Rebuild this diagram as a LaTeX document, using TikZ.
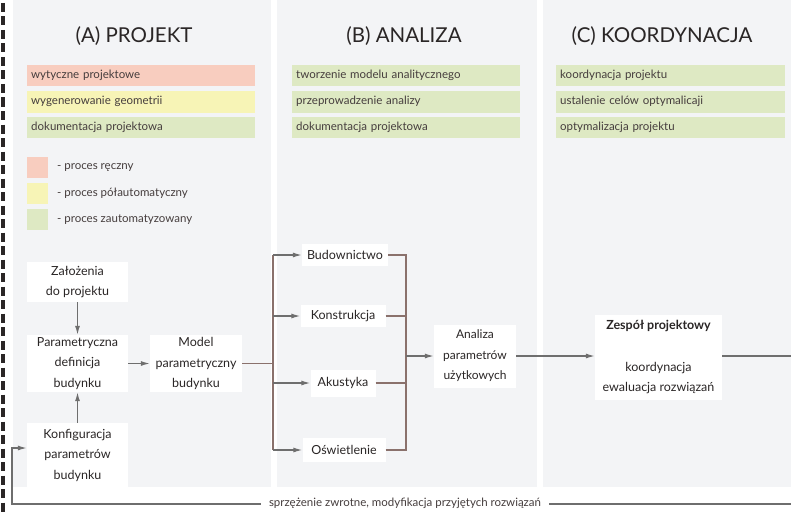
\documentclass[tikz,border=0pt]{standalone}
\usepackage{fontspec}
\setmainfont{Lato}
\usetikzlibrary{arrows.meta}
\definecolor{panel}{HTML}{F3F4F6}
\definecolor{cred}{HTML}{F8CDBF}
\definecolor{cyel}{HTML}{F7F4B6}
\definecolor{cgrn}{HTML}{DEE9C3}
\definecolor{txt}{HTML}{2A2626}
\definecolor{bartxt}{HTML}{453D3D}
\definecolor{busc}{HTML}{8A716C}
\definecolor{arrc}{HTML}{6E6E6E}
\tikzset{
  title/.style={font=\fontsize{20.5}{24}\selectfont, text=txt, inner sep=0pt},
  bar/.style={anchor=west, minimum height=21pt, inner xsep=4pt, inner ysep=0pt,
    text width=220pt, align=left, font=\fontsize{11.5}{13}\selectfont, text=bartxt,
    text height=8.5pt, text depth=2.5pt},
  legsq/.style={minimum width=21pt, minimum height=21pt, inner sep=0pt},
  legtxt/.style={anchor=west, font=\fontsize{11.5}{13}\selectfont, text=bartxt, inner sep=0pt},
  flow/.style={fill=white, align=center, font=\fontsize{12.5}{20.5}\selectfont, text=txt, inner sep=2pt},
  busline/.style={draw=busc, line width=1.2pt},
  arr/.style={draw=arrc, line width=1.2pt, -{Latex[length=9pt,width=5pt]}},
  fbline/.style={draw=arrc, line width=1.2pt}
}
\begin{document}
\begin{tikzpicture}[x=1pt,y=-1pt]
\useasboundingbox (0,0) rectangle (791,516);
\fill[white] (0,0) rectangle (791,516);
% left dashed line
\draw[draw=txt, line width=3.2pt, dash pattern=on 9pt off 4.5pt] (3,3) -- (3,516);
% panels
\fill[panel] (13,0) rectangle (271,487);
\fill[panel] (277,0) rectangle (537,487);
\fill[panel] (543,0) rectangle (791,487);
% titles
\node[title] (tA) at (134,36) {(A) PROJEKT};
\node[title] (tB) at (404,36) {(B) ANALIZA};
\node[title] (tC) at (662,36) {(C) KOORDYNACJA};
% bars A
\node[bar, fill=cred] (a1) at (27,75.5) {wytyczne projektowe};
\node[bar, fill=cyel] (a2) at (27,102) {wygenerowanie geometrii};
\node[bar, fill=cgrn] (a3) at (27,127.5) {dokumentacja projektowa};
% bars B
\node[bar, fill=cgrn] (b1) at (292,75.5) {tworzenie modelu analitycznego};
\node[bar, fill=cgrn] (b2) at (292,102) {przeprowadzenie analizy};
\node[bar, fill=cgrn] (b3) at (292,127.5) {dokumentacja projektowa};
% bars C
\node[bar, fill=cgrn, text width=221pt] (c1) at (556,75.5) {koordynacja projektu};
\node[bar, fill=cgrn, text width=221pt] (c2) at (556,102) {ustalenie celów optymalicaji};
\node[bar, fill=cgrn, text width=221pt] (c3) at (556,127.5) {optymalizacja projektu};
% legend
\node[legsq, fill=cred] (l1) at (37.5,167.5) {};
\node[legsq, fill=cyel] (l2) at (37.5,193.5) {};
\node[legsq, fill=cgrn] (l3) at (37.5,219.5) {};
\node[legtxt] (lt1) at (57,167.5) {- proces ręczny};
\node[legtxt] (lt2) at (57,193.5) {- proces półautomatyczny};
\node[legtxt] (lt3) at (57,219.5) {- proces zautomatyzowany};
% flow nodes
\node[flow, minimum width=101pt, minimum height=40pt] (zal) at (77.5,282) {Założenia\\do projektu};
\node[flow, minimum width=101pt, minimum height=57pt] (par) at (77.5,363.5) {Parametryczna\\definicja\\budynku};
\node[flow, minimum width=101pt, minimum height=64pt] (konf) at (77.5,455) {Konfiguracja\\parametrów\\budynku};
\node[flow, minimum width=92pt, minimum height=57pt] (mod) at (196,363.5) {Model\\parametryczny\\budynku};
\node[flow, minimum width=86pt, minimum height=22pt] (bud) at (345,255) {Budownictwo};
\node[flow, minimum width=85pt, minimum height=22pt] (kon) at (343,316) {Konstrukcja};
\node[flow, minimum width=65pt, minimum height=27pt] (aku) at (343,383) {Akustyka};
\node[flow, minimum width=83pt, minimum height=24pt] (osw) at (344,450) {Oświetlenie};
\node[flow, minimum width=82pt, minimum height=63pt, font=\fontsize{12}{20.5}\selectfont] (ana) at (475,356) {Analiza\\parametrów\\użytkowych};
\node[flow, minimum width=127pt, minimum height=85pt] (zes) at (658.5,357) {\textbf{Zespół projektowy}\\[21pt]koordynacja\\ewaluacja rozwiązań};
% connectors in A
\draw[arr] (zal.south) -- (par.north);
\draw[arr] (konf.north) -- (par.south);
\draw[arr] (par.east) -- (mod.west);
% bus left
\coordinate (s) at (273,363.5);
\draw[busline] (mod.east) -- (s);
\draw[busline] (273,255) -- (273,450);
\draw[arr] (273,255) -- (bud.west);
\draw[arr] (273,316) -- (kon.west);
\draw[arr] (273,383) -- (aku.west);
\draw[arr] (273,450) -- (osw.west);
% bus right
\coordinate (m) at (406,356);
\draw[busline] (bud.east) -| (m);
\draw[busline] (kon.east) -| (m);
\draw[busline] (aku.east) -| (m);
\draw[busline] (osw.east) -| (m);
\draw[arr] (m) -- (ana.west);
\draw[arr] (ana.east) -- (ana.east -| zes.west);
% out to right
\coordinate (outR) at (791,356);
\draw[fbline] (zes.east |- ana.east) -- (outR);
% feedback
\node[font=\fontsize{11.5}{13}\selectfont, text=bartxt, inner xsep=8pt, inner ysep=0pt] (fb) at (405,503) {sprzężenie zwrotne, modyfikacja przyjętych rozwiązań};
\coordinate (fbR) at (791,504);
\coordinate (fbC) at (12,504);
\coordinate (fbL) at (12,448);
\draw[fbline] (fbR) -- (fb.east |- fbR);
\draw[arr] (fb.west |- fbC) -- (fbC) -- (fbL) -- (fbL -| konf.west);
\end{tikzpicture}
\end{document}
